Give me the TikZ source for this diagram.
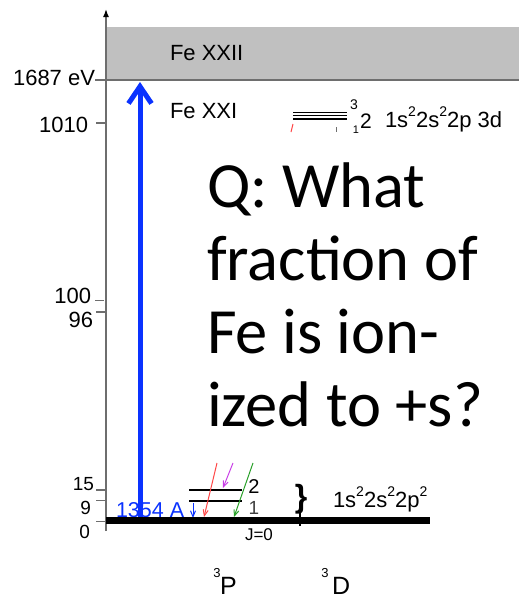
\documentclass[tikz,border=0pt]{standalone}
\usepackage{fontspec}
\setmainfont{Liberation Sans}
\newfontfamily\qfont{Carlito}
\usetikzlibrary{arrows.meta}
\definecolor{ionblue}{RGB}{10,50,255}
\definecolor{axisgray}{RGB}{110,110,110}
\definecolor{boxgray}{RGB}{192,192,192}
\definecolor{tred}{RGB}{255,70,70}
\definecolor{tmag}{RGB}{200,60,230}
\definecolor{tgreen}{RGB}{40,160,40}
\newcommand\mysup[1]{\raisebox{0.5em}{\fontsize{14}{14}\selectfont #1}}
\tikzset{
  ticklbl/.style={font=\fontsize{22}{24}\selectfont, anchor=base east},
  smlbl/.style={font=\fontsize{19}{21}\selectfont, anchor=base east},
  axtick/.style={draw=axisgray, line width=1.3},
  lvl/.style={draw=black, line width=1.4},
  lvlb/.style={draw=black, line width=2.6},
  ionarrow/.style={draw=ionblue, line width=5, -{Straight Barb[length=17pt,width=23pt,line width=5pt]}},
  trans/.style={line width=1, -{Straight Barb[length=6pt,width=5pt]}},
  txt/.style={font=\fontsize{22}{24}\selectfont, anchor=base west},
  qtxt/.style={font=\qfont\fontsize{64.5}{72}\selectfont, anchor=base west},
}
\begin{document}
\begin{tikzpicture}[x=1pt,y=-1pt, every node/.style={inner sep=0pt, outer sep=0pt}]
\useasboundingbox (0,0) rectangle (519,598);
% continuum box
\fill[boxgray] (106,27) rectangle (519,80);
\draw[axisgray, line width=1.5] (95,80) -- (519,80);
% axis
\coordinate (axbot) at (106,531);
\coordinate (axtop) at (106,9);
\draw[axisgray, line width=1.5, -{Latex[length=8pt,width=6pt,black]}] (axbot) -- (axtop);
% ticks
\draw[axtick] (96,123) -- (106,123);
\draw[axtick] (95,300.7) -- (104,300.7);
\draw[axtick] (96,312) -- (106,312);
\draw[axtick] (96,490) -- (106,490);
\draw[axtick] (96,500.7) -- (106,500.7);
\draw[axtick] (96,521.7) -- (106,521.7);
% tick labels
\node[ticklbl] (l1687) at (95,85) {1687 eV};
\node[ticklbl] (l1010) at (88,132) {1010};
\node[ticklbl] (l100) at (91,303) {100};
\node[ticklbl] (l96) at (93,327) {96};
\node[smlbl] (l15) at (94,490) {15};
\node[smlbl] (l9) at (91,514) {9};
\node[smlbl] (l0) at (90,538) {0};
% ion labels
\node[font=\fontsize{22}{24}\selectfont, anchor=base west] (fe22) at (170,60) {Fe XXII};
\node[font=\fontsize{22}{24}\selectfont, anchor=base west] (fe21) at (170,118) {Fe XXI};
% upper levels
\draw[lvl] (293,112.3) -- (347,112.3);
\draw[lvl] (293,115.7) -- (347,115.7);
\draw[lvl] (293,119) -- (347,119);
\draw[axisgray, line width=1] (336,127) -- (336,132);
\draw[tred, line width=1] (291,132) -- (293,124);
\node[font=\fontsize{14}{16}\selectfont] (up3) at (354,105) {3};
\node[font=\fontsize{21}{23}\selectfont] (up2) at (366,121) {2};
\node[font=\fontsize{11}{12}\selectfont] (up1) at (356,130) {1};
\node[txt] (cfg3d) at (385,127) {1s\mysup{2}2s\mysup{2}2p 3d};
% blue label
\node[font=\fontsize{21.5}{23}\selectfont, text=ionblue, anchor=base west] (wav) at (116,517) {1354 A};
% ionization arrow
\coordinate (gnd) at (140,517);
\coordinate (ion) at (140,82);
\draw[ionarrow] (gnd) -- (ion);
% lower levels
\draw[lvlb] (189,490) -- (242,490);
\draw[lvlb] (189,501) -- (242,501);
\node[font=\fontsize{20}{22}\selectfont] (n2) at (254,487) {2};
\node[font=\fontsize{19}{21}\selectfont, text=black!75] (n1) at (254,508) {1};
% transitions
\coordinate (rs) at (217,463); \coordinate (re) at (204,517);
\coordinate (ms) at (233,463); \coordinate (me) at (223,488);
\coordinate (gs) at (253,463); \coordinate (ge) at (234,517);
\coordinate (bs) at (193,503); \coordinate (be) at (193,518);
\draw[trans, tred] (rs) -- (re);
\draw[trans, tmag] (ms) -- (me);
\draw[trans, tgreen] (gs) -- (ge);
\draw[trans, ionblue] (bs) -- (be);
% brace
\draw[black, line width=1.5] (300,510) -- (300,526);
\node[font=\bfseries\fontsize{32}{34}\selectfont] (brace) at (301,499) {\}};
% ground
\coordinate (g0) at (106,520.5);
\coordinate (g1) at (430,520.5);
\draw[black, line width=7] (g0) -- (g1);
\node[txt] (cfg2p) at (333,507) {1s\mysup{2}2s\mysup{2}2p\mysup{2}};
\node[font=\fontsize{17}{19}\selectfont, anchor=base west] (j0) at (245,540) {J=0};
% terms
\node[font=\fontsize{25}{27}\selectfont, anchor=base west] (tP) at (220,594) {P};
\node[font=\fontsize{13}{15}\selectfont] (tP3) at (217,573) {3};
\node[font=\fontsize{25}{27}\selectfont, anchor=base west] (tD) at (332,594) {D};
\node[font=\fontsize{13}{15}\selectfont] (tD3) at (325,573) {3};
% question
\node[qtxt] (q1) at (207,207) {Q: What};
\node[qtxt] (q2) at (207,280) {fraction of};
\node[qtxt] (q3) at (207,353) {Fe is ion-};
\node[qtxt] (q4) at (207,426) {ized to +s?};
\end{tikzpicture}
\end{document}
